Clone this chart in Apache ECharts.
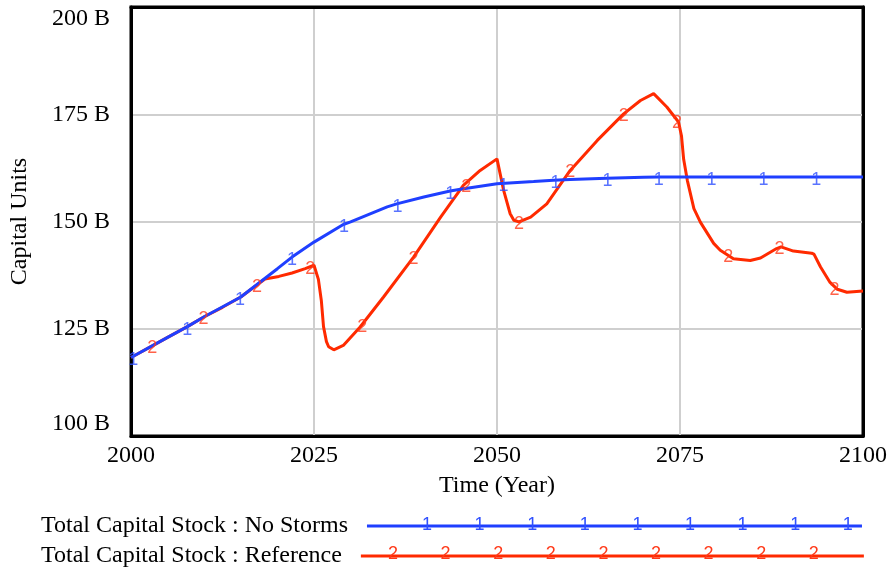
<!DOCTYPE html>
<html>
<head>
<meta charset="utf-8">
<script src="https://cdn.jsdelivr.net/npm/echarts@6/dist/echarts.min.js"></script>
<style>
html,body{margin:0;padding:0;background:#fff;}
#chart{width:891px;height:569px;}
</style>
</head>
<body>
<div id="chart"></div>
<script>
// ---- data ----
var xTicks = [2000, 2025, 2050, 2075, 2100];
var yTicks = [100, 125, 150, 175, 200];

var seriesNames = ['Total Capital Stock : No Storms', 'Total Capital Stock : Reference'];

// No Storms (blue) — [year, billions]
var noStormsYears  = [2000, 2005, 2007.7, 2010, 2015, 2020, 2022, 2025, 2029, 2030, 2035, 2036.3, 2040, 2043.6, 2045, 2050, 2055, 2057.7, 2060, 2065, 2070, 2072, 2075, 2080, 2090, 2100];
var noStormsValues = [118.3, 123.0, 125.5, 127.8, 132.4, 139.0, 141.7, 145.2, 149.3, 149.9, 153.4, 154.1, 155.7, 157.1, 157.5, 158.8, 159.3, 159.6, 159.8, 160.1, 160.3, 160.35, 160.4, 160.4, 160.4, 160.4];

// Reference (red) — [year, billions]
var referenceYears  = [2000, 2002.9, 2005, 2007.7, 2010, 2012.5, 2015, 2017.2, 2018.3, 2020.2, 2022, 2023.8, 2025.0, 2025.2, 2025.6, 2026.0, 2026.3, 2026.7, 2027.0, 2027.7, 2029.0, 2031.3, 2034.5, 2038.6, 2042.3, 2045.4, 2047.7, 2050.0, 2050.2, 2050.9, 2051.8, 2052.3, 2053.0, 2054.6, 2056.8, 2058.4, 2060.0, 2063.7, 2067.3, 2069.6, 2071.4, 2073.2, 2074.8, 2075.2, 2075.5, 2076.0, 2076.9, 2077.8, 2079.6, 2080.5, 2082.3, 2084.6, 2086.0, 2088.2, 2088.8, 2090.5, 2093.0, 2093.3, 2094.2, 2095.5, 2096.5, 2097.8, 2100];
var referenceValues = [118.3, 121.0, 123.0, 125.5, 127.8, 130.0, 132.4, 135.2, 136.6, 137.2, 138.0, 139.0, 139.8, 140.2, 136.5, 131.6, 125.5, 122.0, 120.8, 120.1, 121.1, 125.4, 132.4, 141.7, 151.0, 158.4, 161.9, 164.6, 165.0, 157.3, 151.8, 150.3, 149.9, 151.0, 154.1, 158.0, 161.9, 168.9, 175.1, 178.2, 179.8, 176.7, 173.2, 170.0, 164.5, 159.6, 153.0, 149.8, 144.9, 143.3, 141.3, 140.9, 141.5, 143.7, 144.1, 143.1, 142.6, 142.4, 139.4, 135.8, 134.2, 133.5, 133.8];

// numbered run markers ("1" on No Storms, "2" on Reference)
var marker1Years  = [2000.3, 2007.7, 2014.9, 2022.0, 2029.1, 2036.4, 2043.6, 2050.9, 2058.0, 2065.1, 2072.1, 2079.3, 2086.4, 2093.6];
var marker1Values = [118.3, 125.5, 132.4, 141.7, 149.3, 154.1, 157.1, 159.0, 159.6, 160.1, 160.35, 160.4, 160.4, 160.4];
var marker2Years  = [2002.9, 2009.9, 2017.2, 2024.5, 2031.6, 2038.6, 2045.8, 2053.0, 2060.0, 2067.3, 2074.6, 2081.6, 2088.6, 2096.1];
var marker2Values = [121.0, 127.7, 135.2, 139.5, 125.8, 141.7, 158.6, 149.9, 161.9, 175.1, 173.5, 142.2, 144.0, 134.6];

// ---- styling ----
var BLUE = '#1f3fff', RED = '#ff2a00';
var BLUE_TXT = '#2f50ff', RED_TXT = '#ff3a1a';
var SERIF = '"Liberation Serif", "Times New Roman", serif';
var DIGIT_FONT = '"Liberation Sans", Arial, sans-serif';

function pairs(xs, ys) { return xs.map(function (x, i) { return [x, ys[i]]; }); }

// legend digit decorations
var legendDigitCount = 9, legendDigitStep = 52.6;
var legend1Start = 427, legend2Start = 393;
var legendY1 = 522, legendY2 = 552;
var graphics = [];
for (var i = 0; i < legendDigitCount; i++) {
  graphics.push({type: 'text', silent: true, z: 100, style: {text: '1', x: legend1Start + i * legendDigitStep, y: legendY1 + 3, fill: BLUE_TXT, font: '18px ' + DIGIT_FONT, align: 'center', verticalAlign: 'middle'}});
  graphics.push({type: 'text', silent: true, z: 100, style: {text: '2', x: legend2Start + i * legendDigitStep, y: legendY2 + 2, fill: RED_TXT, font: '18px ' + DIGIT_FONT, align: 'center', verticalAlign: 'middle'}});
}

var chart = echarts.init(document.getElementById('chart'), null, {renderer: 'canvas'});
var legendText = {fontSize: 24, fontFamily: SERIF, color: '#000', padding: [0, 14, 0, 0]};
var blackLine = {show: true, lineStyle: {color: '#000', width: 3}};
var gridSplit = {show: true, showMinLine: false, showMaxLine: false, lineStyle: {color: '#cfcfcf', width: 2}};
chart.setOption({
  animation: false,
  backgroundColor: '#fff',
  grid: {left: 131, right: 28, top: 7, bottom: 133, show: true, borderColor: '#000', borderWidth: 3, backgroundColor: 'transparent'},
  xAxis: [{
    type: 'value', min: xTicks[0], max: xTicks[xTicks.length - 1], interval: 25,
    name: 'Time (Year)', nameLocation: 'middle', nameGap: 38,
    nameTextStyle: {fontSize: 24, fontFamily: SERIF, color: '#000'},
    axisLine: blackLine, axisTick: {show: false},
    axisLabel: {fontSize: 24, fontFamily: SERIF, color: '#000', margin: 8, formatter: function (v) { return String(v); }},
    splitLine: gridSplit
  }, {
    type: 'value', position: 'top', min: xTicks[0], max: xTicks[xTicks.length - 1], interval: 25,
    axisLine: blackLine, axisTick: {show: false}, axisLabel: {show: false}, splitLine: {show: false}
  }],
  yAxis: [{
    type: 'value', min: yTicks[0], max: yTicks[yTicks.length - 1], interval: 25,
    name: 'Capital Units', nameLocation: 'middle', nameGap: 99,
    nameTextStyle: {fontSize: 24, fontFamily: SERIF, color: '#000'},
    axisLine: blackLine, axisTick: {show: false},
    axisLabel: {fontSize: 24, fontFamily: SERIF, color: '#000', margin: 21,
      formatter: function (v) { return v + ' B'; },
      verticalAlignMinLabel: 'bottom', verticalAlignMaxLabel: 'top'},
    splitLine: gridSplit
  }, {
    type: 'value', position: 'right', min: yTicks[0], max: yTicks[yTicks.length - 1], interval: 25,
    axisLine: blackLine, axisTick: {show: false}, axisLabel: {show: false}, splitLine: {show: false}
  }],
  legend: [
    {data: [seriesNames[0]], left: 36, top: legendY1 - 13, orient: 'horizontal', align: 'right', icon: 'rect', itemWidth: 495, itemHeight: 3, textStyle: legendText, selectedMode: false},
    {data: [seriesNames[1]], left: 36, top: legendY2 - 13, orient: 'horizontal', align: 'right', icon: 'rect', itemWidth: 503, itemHeight: 3, textStyle: legendText, selectedMode: false}
  ],
  graphic: graphics,
  series: [
    {name: seriesNames[0], type: 'line', data: pairs(noStormsYears, noStormsValues), showSymbol: false, symbol: 'none', lineStyle: {color: BLUE, width: 3}, itemStyle: {color: BLUE}, z: 3},
    {name: seriesNames[1], type: 'line', data: pairs(referenceYears, referenceValues), showSymbol: false, symbol: 'none', lineStyle: {color: RED, width: 3}, itemStyle: {color: RED}, z: 2},
    {name: 'marks1', type: 'scatter', data: pairs(marker1Years, marker1Values), symbolSize: 1, itemStyle: {color: 'rgba(0,0,0,0)'}, silent: true, z: 5,
      label: {show: true, position: 'inside', formatter: '1', color: BLUE_TXT, fontSize: 18, fontFamily: DIGIT_FONT, offset: [0, 3]}},
    {name: 'marks2', type: 'scatter', data: pairs(marker2Years, marker2Values), symbolSize: 1, itemStyle: {color: 'rgba(0,0,0,0)'}, silent: true, z: 5,
      label: {show: true, position: 'inside', formatter: '2', color: RED_TXT, fontSize: 18, fontFamily: DIGIT_FONT, offset: [0, 2]}}
  ]
});
</script>
</body>
</html>
